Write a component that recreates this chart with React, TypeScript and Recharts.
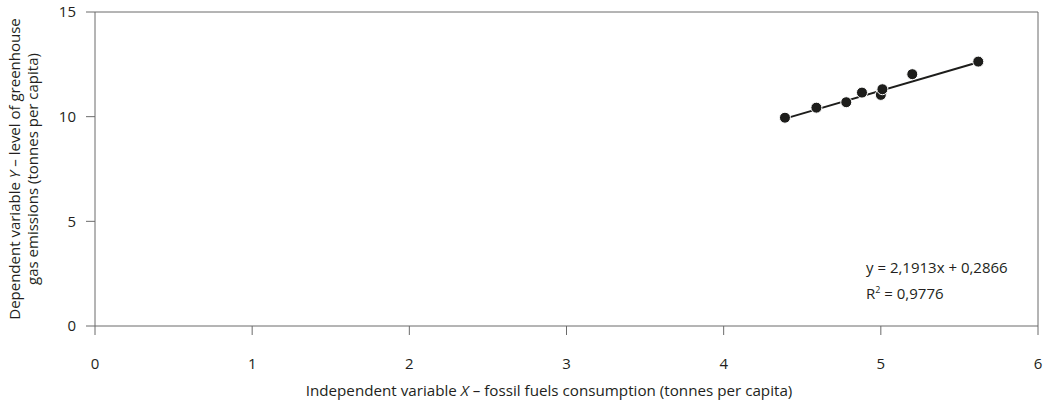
import { ScatterChart, Scatter, XAxis, YAxis, ReferenceLine } from "recharts";

// fossil fuel consumption vs. greenhouse gas emissions, tonnes per capita
const fossilFuels = [4.39, 4.59, 4.78, 4.88, 5.0, 5.01, 5.2, 5.62];
const emissions = [9.95, 10.43, 10.69, 11.15, 11.04, 11.31, 12.03, 12.63];

const xTicks = [0, 1, 2, 3, 4, 5, 6];
const yTicks = [0, 5, 10, 15];

// fitted regression
const slope = 2.1913;
const intercept = 0.2866;
const rSquared = "0,9776";

const points = fossilFuels.map((x, i) => ({ x, y: emissions[i] }));
const xMin = Math.min(...fossilFuels);
const xMax = Math.max(...fossilFuels);

const FONT = "'Open Sans', sans-serif";
const TEXT = "#231f20";
const AXIS = "#6b6b6b";

const Dot = (props: any) => (
  <circle cx={props.cx} cy={props.cy} r={5.5} fill="#1d1d1b" stroke="#fff" strokeWidth={1} />
);

const App = () => {
  return (
    <div style={{ position: "absolute", left: 0, top: 0, width: 1051, height: 412, background: "#fff" }}>
      <ScatterChart width={1051} height={412} margin={{ top: 12, right: 13, bottom: 26, left: 35 }}>
        <XAxis
          type="number"
          dataKey="x"
          domain={[0, 6]}
          ticks={xTicks}
          height={60}
          stroke={AXIS}
          tickSize={9}
          tickMargin={23}
          tick={{ fill: TEXT, fontSize: 15, fontFamily: FONT }}
        />
        <YAxis
          type="number"
          dataKey="y"
          domain={[0, 15]}
          ticks={yTicks}
          width={60}
          stroke={AXIS}
          tickSize={9}
          tickMargin={10}
          tick={{ fill: TEXT, fontSize: 15, fontFamily: FONT }}
        />
        <ReferenceLine y={15} stroke={AXIS} />
        <ReferenceLine x={6} stroke={AXIS} />
        <ReferenceLine
          segment={[
            { x: xMin, y: slope * xMin + intercept },
            { x: xMax, y: slope * xMax + intercept },
          ]}
          stroke="#1d1d1b"
          strokeWidth={2}
        />
        <Scatter data={points} shape={Dot} isAnimationActive={false} />
        <g fontFamily={FONT} fontSize={15} fill={TEXT}>
          <text transform="translate(20,169) rotate(-90)" textAnchor="middle">
            <tspan x={0} y={0}>Dependent variable <tspan fontStyle="italic">Y</tspan> – level of greenhouse</tspan>
            <tspan x={0} y={18}>gas emissions (tonnes per capita)</tspan>
          </text>
          <text x={549} y={396} textAnchor="middle" fontSize={15.2}>
            Independent variable <tspan fontStyle="italic">X</tspan> – fossil fuels consumption (tonnes per capita)
          </text>
          <text x={866} y={273}>
            y = {String(slope).replace(".", ",")}x + {String(intercept).replace(".", ",")}
          </text>
          <text x={866} y={299}>
            R<tspan fontSize={9} dy={-6}>2</tspan>
            <tspan dy={6}> = {rSquared}</tspan>
          </text>
        </g>
      </ScatterChart>
    </div>
  );
};

export default App;
